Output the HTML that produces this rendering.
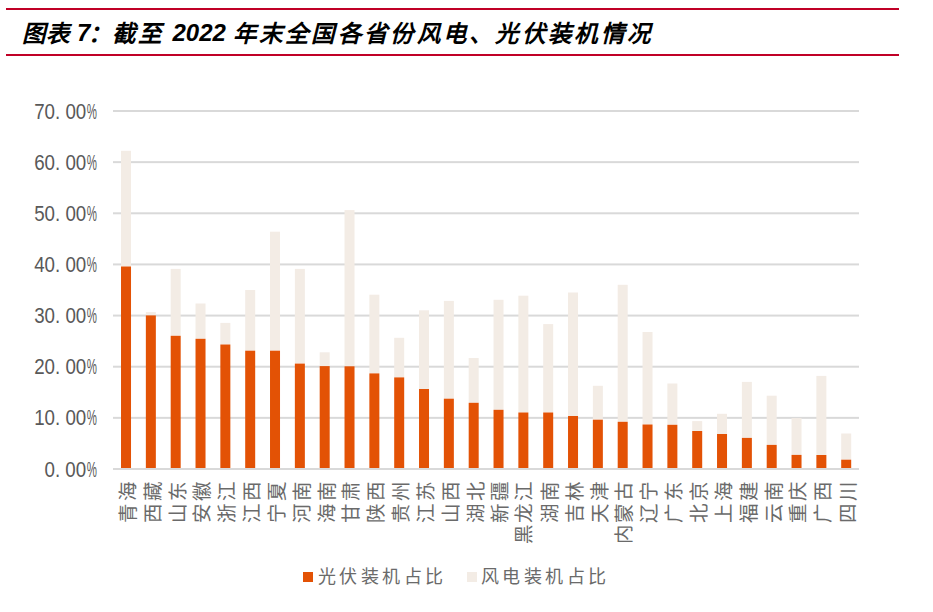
<!DOCTYPE html>
<html lang="zh-CN"><head><meta charset="utf-8">
<style>
html,body{margin:0;padding:0;background:#fff;}
body{width:933px;height:612px;position:relative;overflow:hidden;font-family:"Liberation Sans",sans-serif;}
.rl{position:absolute;left:6px;width:893px;height:2px;background:#C00026;}
.title{position:absolute;left:0;top:0;}
.tc{position:absolute;top:18.5px;font-family:"Liberation Serif",serif;font-weight:bold;font-style:italic;font-size:23.5px;line-height:30px;color:#000;white-space:nowrap;}
.td{position:absolute;top:18px;font-family:"Liberation Sans",sans-serif;font-weight:bold;font-style:italic;font-size:24px;line-height:30px;color:#000;white-space:nowrap;}
svg{position:absolute;left:0;top:0;}
svg text{font-family:"Liberation Sans",sans-serif;font-size:21.4px;fill:#595959;}
.vp{position:absolute;top:478.8px;width:0;height:0;}
.vlab{position:absolute;right:0;top:-10px;height:20px;line-height:20px;font-family:"Liberation Serif",serif;font-size:19.5px;color:#6a6a6a;letter-spacing:1.8px;white-space:nowrap;transform-origin:100% 50%;transform:rotate(-90deg);}
.lg{position:absolute;top:566.7px;font-family:"Liberation Serif",serif;font-size:18px;line-height:20px;color:#6a6a6a;letter-spacing:3.5px;white-space:nowrap;}
.sq{position:absolute;top:572px;width:10px;height:10px;}
</style></head><body>
<div class="rl" style="top:8px"></div>
<div class="rl" style="top:54px"></div>
<div class="title"><span class="tc" style="left:22.0px;letter-spacing:1.0px">图表</span><span class="td" style="left:77px">7</span><span class="tc" style="left:87.5px">：</span><span class="tc" style="left:111.5px;letter-spacing:3.3px">截至</span><span class="td" style="left:172.5px">2022</span><span class="tc" style="left:232.5px;letter-spacing:3.3px">年末全国各省份风电、光伏装机情况</span></div>
<svg width="933" height="612" viewBox="0 0 933 612">
<rect x="113" y="468.00" width="746" height="2" fill="#D9D9D9"/><rect x="113" y="416.86" width="746" height="2" fill="#D9D9D9"/><rect x="113" y="365.71" width="746" height="2" fill="#D9D9D9"/><rect x="113" y="314.57" width="746" height="2" fill="#D9D9D9"/><rect x="113" y="263.43" width="746" height="2" fill="#D9D9D9"/><rect x="113" y="212.29" width="746" height="2" fill="#D9D9D9"/><rect x="113" y="161.14" width="746" height="2" fill="#D9D9D9"/><rect x="113" y="110.00" width="746" height="2" fill="#D9D9D9"/>
<rect x="121.02" y="150.8" width="10" height="115.70" fill="#F3ECE5"/><rect x="121.02" y="266.5" width="10" height="202.10" fill="#E35205"/><rect x="145.85" y="312.1" width="10" height="3.30" fill="#F3ECE5"/><rect x="145.85" y="315.4" width="10" height="153.20" fill="#E35205"/><rect x="170.69" y="268.9" width="10" height="66.90" fill="#F3ECE5"/><rect x="170.69" y="335.8" width="10" height="132.80" fill="#E35205"/><rect x="195.52" y="303.5" width="10" height="35.30" fill="#F3ECE5"/><rect x="195.52" y="338.8" width="10" height="129.80" fill="#E35205"/><rect x="220.35" y="322.9" width="10" height="21.60" fill="#F3ECE5"/><rect x="220.35" y="344.5" width="10" height="124.10" fill="#E35205"/><rect x="245.19" y="290" width="10" height="60.70" fill="#F3ECE5"/><rect x="245.19" y="350.7" width="10" height="117.90" fill="#E35205"/><rect x="270.02" y="231.7" width="10" height="119.00" fill="#F3ECE5"/><rect x="270.02" y="350.7" width="10" height="117.90" fill="#E35205"/><rect x="294.86" y="268.9" width="10" height="94.70" fill="#F3ECE5"/><rect x="294.86" y="363.6" width="10" height="105.00" fill="#E35205"/><rect x="319.69" y="352.3" width="10" height="13.80" fill="#F3ECE5"/><rect x="319.69" y="366.1" width="10" height="102.50" fill="#E35205"/><rect x="344.52" y="210.1" width="10" height="156.20" fill="#F3ECE5"/><rect x="344.52" y="366.3" width="10" height="102.30" fill="#E35205"/><rect x="369.36" y="294.7" width="10" height="78.70" fill="#F3ECE5"/><rect x="369.36" y="373.4" width="10" height="95.20" fill="#E35205"/><rect x="394.19" y="337.8" width="10" height="39.60" fill="#F3ECE5"/><rect x="394.19" y="377.4" width="10" height="91.20" fill="#E35205"/><rect x="419.02" y="310.3" width="10" height="78.70" fill="#F3ECE5"/><rect x="419.02" y="389" width="10" height="79.60" fill="#E35205"/><rect x="443.86" y="300.9" width="10" height="97.80" fill="#F3ECE5"/><rect x="443.86" y="398.7" width="10" height="69.90" fill="#E35205"/><rect x="468.69" y="358" width="10" height="44.80" fill="#F3ECE5"/><rect x="468.69" y="402.8" width="10" height="65.80" fill="#E35205"/><rect x="493.53" y="299.8" width="10" height="110.00" fill="#F3ECE5"/><rect x="493.53" y="409.8" width="10" height="58.80" fill="#E35205"/><rect x="518.36" y="295.7" width="10" height="116.80" fill="#F3ECE5"/><rect x="518.36" y="412.5" width="10" height="56.10" fill="#E35205"/><rect x="543.19" y="324.1" width="10" height="88.40" fill="#F3ECE5"/><rect x="543.19" y="412.5" width="10" height="56.10" fill="#E35205"/><rect x="568.03" y="292.5" width="10" height="123.50" fill="#F3ECE5"/><rect x="568.03" y="416" width="10" height="52.60" fill="#E35205"/><rect x="592.86" y="385.8" width="10" height="33.90" fill="#F3ECE5"/><rect x="592.86" y="419.7" width="10" height="48.90" fill="#E35205"/><rect x="617.70" y="284.8" width="10" height="137.00" fill="#F3ECE5"/><rect x="617.70" y="421.8" width="10" height="46.80" fill="#E35205"/><rect x="642.53" y="332" width="10" height="92.50" fill="#F3ECE5"/><rect x="642.53" y="424.5" width="10" height="44.10" fill="#E35205"/><rect x="667.37" y="383.5" width="10" height="41.30" fill="#F3ECE5"/><rect x="667.37" y="424.8" width="10" height="43.80" fill="#E35205"/><rect x="692.20" y="421.1" width="10" height="9.90" fill="#F3ECE5"/><rect x="692.20" y="431" width="10" height="37.60" fill="#E35205"/><rect x="717.03" y="413.8" width="10" height="20.20" fill="#F3ECE5"/><rect x="717.03" y="434" width="10" height="34.60" fill="#E35205"/><rect x="741.87" y="381.9" width="10" height="56.00" fill="#F3ECE5"/><rect x="741.87" y="437.9" width="10" height="30.70" fill="#E35205"/><rect x="766.70" y="395.7" width="10" height="49.20" fill="#F3ECE5"/><rect x="766.70" y="444.9" width="10" height="23.70" fill="#E35205"/><rect x="791.53" y="418.1" width="10" height="36.80" fill="#F3ECE5"/><rect x="791.53" y="454.9" width="10" height="13.70" fill="#E35205"/><rect x="816.37" y="375.9" width="10" height="79.10" fill="#F3ECE5"/><rect x="816.37" y="455" width="10" height="13.60" fill="#E35205"/><rect x="841.20" y="433.5" width="10" height="26.20" fill="#F3ECE5"/><rect x="841.20" y="459.7" width="10" height="8.90" fill="#E35205"/>
<rect x="113" y="468" width="746" height="2" fill="#D9D9D9"/>
<text transform="translate(86.2,476.60) scale(0.875,1)" text-anchor="end">0.&#160;00</text><text transform="translate(97.0,476.60) scale(0.535,1)" text-anchor="end">%</text><text transform="translate(86.2,425.46) scale(0.875,1)" text-anchor="end">10.&#160;00</text><text transform="translate(97.0,425.46) scale(0.535,1)" text-anchor="end">%</text><text transform="translate(86.2,374.31) scale(0.875,1)" text-anchor="end">20.&#160;00</text><text transform="translate(97.0,374.31) scale(0.535,1)" text-anchor="end">%</text><text transform="translate(86.2,323.17) scale(0.875,1)" text-anchor="end">30.&#160;00</text><text transform="translate(97.0,323.17) scale(0.535,1)" text-anchor="end">%</text><text transform="translate(86.2,272.03) scale(0.875,1)" text-anchor="end">40.&#160;00</text><text transform="translate(97.0,272.03) scale(0.535,1)" text-anchor="end">%</text><text transform="translate(86.2,220.89) scale(0.875,1)" text-anchor="end">50.&#160;00</text><text transform="translate(97.0,220.89) scale(0.535,1)" text-anchor="end">%</text><text transform="translate(86.2,169.74) scale(0.875,1)" text-anchor="end">60.&#160;00</text><text transform="translate(97.0,169.74) scale(0.535,1)" text-anchor="end">%</text><text transform="translate(86.2,118.60) scale(0.875,1)" text-anchor="end">70.&#160;00</text><text transform="translate(97.0,118.60) scale(0.535,1)" text-anchor="end">%</text>
</svg>
<div id="cats"><div class="vp" style="left:128.52px"><span class="vlab">青海</span></div><div class="vp" style="left:153.35px"><span class="vlab">西藏</span></div><div class="vp" style="left:178.19px"><span class="vlab">山东</span></div><div class="vp" style="left:203.02px"><span class="vlab">安徽</span></div><div class="vp" style="left:227.85px"><span class="vlab">浙江</span></div><div class="vp" style="left:252.69px"><span class="vlab">江西</span></div><div class="vp" style="left:277.52px"><span class="vlab">宁夏</span></div><div class="vp" style="left:302.36px"><span class="vlab">河南</span></div><div class="vp" style="left:327.19px"><span class="vlab">海南</span></div><div class="vp" style="left:352.02px"><span class="vlab">甘肃</span></div><div class="vp" style="left:376.86px"><span class="vlab">陕西</span></div><div class="vp" style="left:401.69px"><span class="vlab">贵州</span></div><div class="vp" style="left:426.52px"><span class="vlab">江苏</span></div><div class="vp" style="left:451.36px"><span class="vlab">山西</span></div><div class="vp" style="left:476.19px"><span class="vlab">湖北</span></div><div class="vp" style="left:501.03px"><span class="vlab">新疆</span></div><div class="vp" style="left:525.86px"><span class="vlab">黑龙江</span></div><div class="vp" style="left:550.69px"><span class="vlab">湖南</span></div><div class="vp" style="left:575.53px"><span class="vlab">吉林</span></div><div class="vp" style="left:600.36px"><span class="vlab">天津</span></div><div class="vp" style="left:625.20px"><span class="vlab">内蒙古</span></div><div class="vp" style="left:650.03px"><span class="vlab">辽宁</span></div><div class="vp" style="left:674.87px"><span class="vlab">广东</span></div><div class="vp" style="left:699.70px"><span class="vlab">北京</span></div><div class="vp" style="left:724.53px"><span class="vlab">上海</span></div><div class="vp" style="left:749.37px"><span class="vlab">福建</span></div><div class="vp" style="left:774.20px"><span class="vlab">云南</span></div><div class="vp" style="left:799.03px"><span class="vlab">重庆</span></div><div class="vp" style="left:823.87px"><span class="vlab">广西</span></div><div class="vp" style="left:848.70px"><span class="vlab">四川</span></div></div>
<div class="sq" style="left:303px;background:#E35205"></div>
<div class="lg" style="left:317.8px">光伏装机占比</div>
<div class="sq" style="left:467px;background:#F3ECE5"></div>
<div class="lg" style="left:480.8px">风电装机占比</div>
</body></html>
